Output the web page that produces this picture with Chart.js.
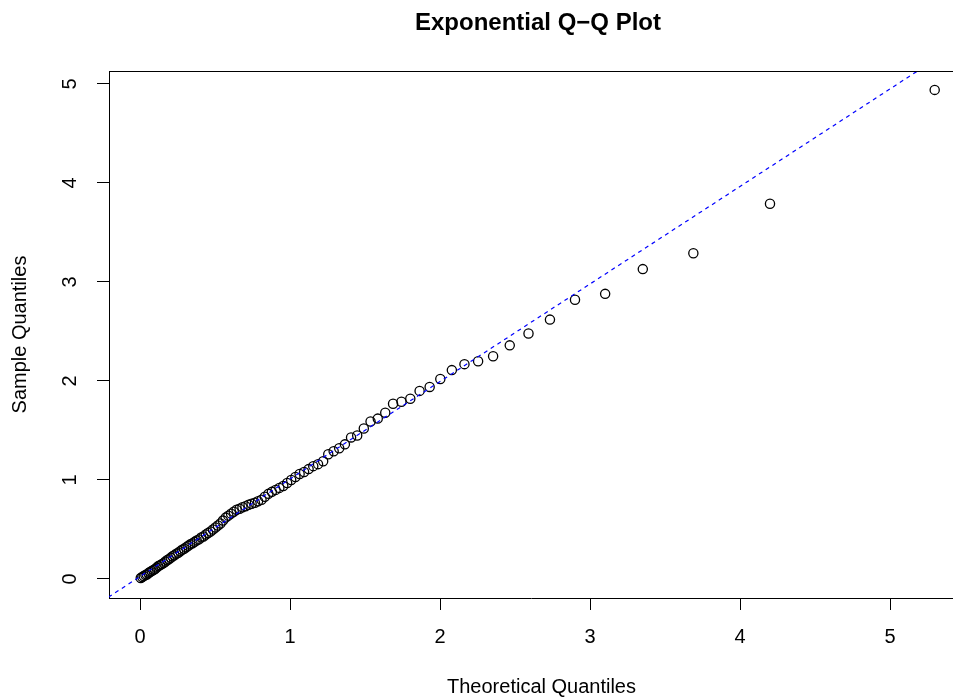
<!DOCTYPE html>
<html>
<head>
<meta charset="utf-8">
<script src="https://cdn.jsdelivr.net/npm/chart.js@4"></script>
<style>
  html, body { margin: 0; padding: 0; background: #fff; }
  #wrap { width: 953px; height: 698px; }
</style>
</head>
<body>
<div id="wrap"><canvas id="chart" width="953" height="698"></canvas></div>
<script>
// Theoretical quantiles of the exponential distribution (n = 100)
const theoretical = [
  0.005, 0.015, 0.025, 0.036, 0.046, 0.057, 0.067, 0.078, 0.089, 0.100,
  0.111, 0.122, 0.134, 0.145, 0.157, 0.168, 0.180, 0.192, 0.205, 0.217,
  0.229, 0.242, 0.255, 0.268, 0.281, 0.294, 0.308, 0.322, 0.335, 0.350,
  0.364, 0.378, 0.393, 0.408, 0.423, 0.439, 0.454, 0.470, 0.486, 0.503,
  0.519, 0.536, 0.553, 0.571, 0.589, 0.607, 0.625, 0.644, 0.664, 0.683,
  0.703, 0.724, 0.744, 0.766, 0.787, 0.810, 0.832, 0.856, 0.879, 0.904,
  0.929, 0.955, 0.981, 1.008, 1.036, 1.064, 1.094, 1.124, 1.155, 1.187,
  1.221, 1.255, 1.291, 1.328, 1.366, 1.407, 1.448, 1.492, 1.537, 1.585,
  1.635, 1.687, 1.743, 1.802, 1.864, 1.931, 2.002, 2.079, 2.163, 2.254,
  2.354, 2.465, 2.590, 2.733, 2.900, 3.101, 3.352, 3.689, 4.200, 5.298
];

// Sorted sample values
const sample = [
  0.01, 0.02, 0.03, 0.04, 0.045, 0.06, 0.07, 0.08, 0.09, 0.10,
  0.115, 0.13, 0.14, 0.15, 0.16, 0.175, 0.19, 0.20, 0.215, 0.23,
  0.24, 0.255, 0.265, 0.28, 0.295, 0.305, 0.32, 0.335, 0.35, 0.36,
  0.375, 0.39, 0.40, 0.42, 0.43, 0.45, 0.465, 0.48, 0.50, 0.52,
  0.54, 0.56, 0.59, 0.62, 0.64, 0.66, 0.68, 0.70, 0.71, 0.725,
  0.735, 0.75, 0.76, 0.77, 0.785, 0.80, 0.83, 0.86, 0.88, 0.90,
  0.92, 0.94, 0.97, 1.00, 1.03, 1.06, 1.08, 1.11, 1.14, 1.16,
  1.19, 1.26, 1.29, 1.32, 1.36, 1.43, 1.45, 1.52, 1.59, 1.62,
  1.68, 1.77, 1.79, 1.82, 1.90, 1.94, 2.02, 2.11, 2.17, 2.20,
  2.25, 2.36, 2.48, 2.62, 2.82, 2.88, 3.13, 3.29, 3.79, 4.94
];

// Reference line end points (dashed blue)
const lineX = [-0.3, 5.6];
const lineY = [-0.271, 5.541];

const tickValues = [0, 1, 2, 3, 4, 5];

const titleText = "Exponential Q\u2212Q Plot";
const xLabel = "Theoretical Quantiles";
const yLabel = "Sample Quantiles";

const FONT = "'Liberation Sans', Arial, Helvetica, sans-serif";

let points = [];
for (let i = 0; i < theoretical.length; i++) {
  points.push({ x: theoretical[i], y: sample[i] });
}
let linePoints = [];
for (let i = 0; i < lineX.length; i++) {
  linePoints.push({ x: lineX[i], y: lineY[i] });
}

// Top border, main title and x label (centred on the full plot region like R)
const extras = {
  id: "extras",
  afterDraw(chart) {
    const ctx = chart.ctx;
    const area = chart.chartArea;
    ctx.save();
    ctx.strokeStyle = "#000";
    ctx.lineWidth = 1;
    ctx.beginPath();
    ctx.moveTo(area.left, area.top + 0.5);
    ctx.lineTo(area.right, area.top + 0.5);
    ctx.stroke();

    ctx.fillStyle = "#000";
    ctx.textAlign = "center";
    ctx.textBaseline = "alphabetic";
    ctx.font = "bold 24px " + FONT;
    ctx.fillText(titleText, 538, 30);
    ctx.font = "20px " + FONT;
    ctx.fillText(xLabel, 541.5, 693);
    ctx.restore();
  }
};

new Chart(document.getElementById("chart"), {
  type: "scatter",
  data: {
    datasets: [
      {
        data: linePoints,
        showLine: true,
        borderColor: "#0000ff",
        borderWidth: 1.2,
        borderDash: [4, 4],
        pointRadius: 0,
        fill: false,
        order: 0
      },
      {
        data: points,
        pointStyle: "circle",
        pointRadius: 4.6,
        pointBorderWidth: 1.3,
        pointBorderColor: "#000",
        pointBackgroundColor: "rgba(0,0,0,0)",
        order: 1
      }
    ]
  },
  plugins: [extras],
  options: {
    responsive: false,
    animation: false,
    devicePixelRatio: 1,
    layout: { autoPadding: false, padding: { top: 71, right: 0, bottom: 0, left: 0 } },
    plugins: {
      legend: { display: false },
      tooltip: { enabled: false },
      title: { display: false }
    },
    scales: {
      x: {
        type: "linear",
        min: -0.2067,
        max: 5.42,
        afterFit(scale) { scale.height = 100; },
        afterBuildTicks(scale) { scale.ticks = tickValues.map(v => ({ value: v })); },
        border: { display: true, color: "#000", width: 1 },
        grid: { drawOnChartArea: false, drawTicks: true, tickLength: 12, color: "#000", lineWidth: 1 },
        ticks: {
          padding: 15,
          color: "#000",
          font: { family: FONT, size: 20 },
          maxRotation: 0,
          callback: v => String(v)
        }
      },
      y: {
        type: "linear",
        min: -0.192,
        max: 5.131,
        afterFit(scale) { scale.width = 109; },
        afterBuildTicks(scale) { scale.ticks = tickValues.map(v => ({ value: v })); },
        border: { display: true, color: "#000", width: 1 },
        grid: { drawOnChartArea: false, drawTicks: true, tickLength: 12, color: "#000", lineWidth: 1 },
        ticks: {
          padding: 21,
          color: "#000",
          minRotation: 90,
          maxRotation: 90,
          crossAlign: "center",
          font: { family: FONT, size: 20 },
          callback: v => String(v)
        },
        title: {
          display: true,
          text: yLabel,
          color: "#000",
          font: { family: FONT, size: 20 },
          padding: { top: 8, bottom: 0 }
        }
      }
    }
  }
});
</script>
</body>
</html>
